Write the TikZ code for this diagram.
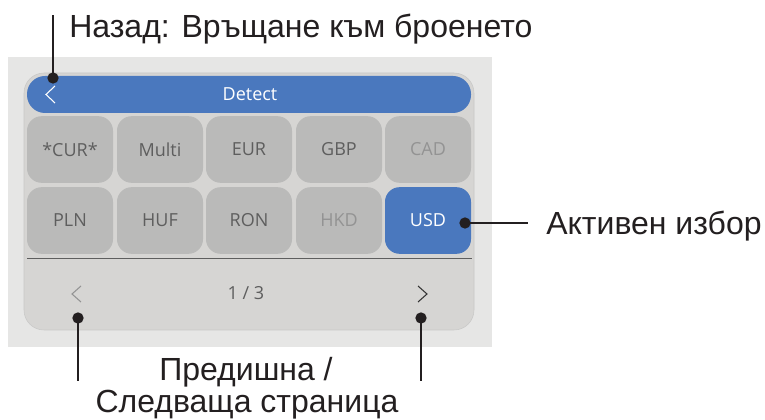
\documentclass[tikz,border=0pt]{standalone}
\usepackage{fontspec}
\setmainfont{Liberation Sans}
\newfontfamily\screenfont{Open Sans}
\usetikzlibrary{positioning}

\definecolor{panelgray}{HTML}{E6E6E5}
\definecolor{screengray}{HTML}{D6D5D3}
\definecolor{screenedge}{HTML}{C8C8C7}
\definecolor{keygray}{HTML}{BABAB9}
\definecolor{keyblue}{HTML}{4A78BE}
\definecolor{keytext}{HTML}{5E5E5E}
\definecolor{keyoff}{HTML}{939393}
\definecolor{callout}{HTML}{231F20}

\tikzset{
	key/.style={rectangle, rounded corners=11pt, fill=keygray, text=keytext,
		minimum width=64.5pt, minimum height=50pt, inner sep=0pt,
		font=\screenfont\fontsize{13.5}{15}\selectfont},
	keyoffline/.style={key, text=keyoff},
	keyactive/.style={key, fill=keyblue, text=white},
	calloutline/.style={draw=callout, line width=1.9pt},
	calloutdot/.style={fill=callout, circle, inner sep=0pt, minimum size=8.5pt},
	callouttext/.style={text=callout, inner sep=0pt, font=\fontsize{24}{26}\selectfont}
}

\begin{document}
\begin{tikzpicture}[x=0.75pt, y=-0.75pt]
				\useasboundingbox (0,0) rectangle (765,420);
				
				\fill[panelgray] (8,57) rectangle (492,347);
				\draw[screenedge, fill=screengray, rounded corners=15pt] (24,73) rectangle (474,330);
				
				\fill[keyblue, rounded corners=13.5pt] (27,76) rectangle (471,113);
				\node[text=white, font=\screenfont\fontsize{13.5}{15}\selectfont] (title) at (250,94.5) {Detect};
				\draw[white, line width=0.8pt] (55,86) -- (46,94.5) -- (55,103);
				
				\node[key] (cur) at (70,149.5) {*CUR*};
				\node[key] (multi) at (160,149.5) {Multi};
				\node[key] (eur) at (249,149.5) {EUR};
				\node[key] (gbp) at (339,149.5) {GBP};
				\node[keyoffline] (cad) at (428,149.5) {CAD};
				
				\node[key] (pln) at (70,220.5) {PLN};
				\node[key] (huf) at (160,220.5) {HUF};
				\node[key] (ron) at (249,220.5) {RON};
				\node[keyoffline] (hkd) at (339,220.5) {HKD};
				\node[keyactive] (usd) at (428,220.5) {USD};
				
				\draw[keytext, line width=0.7pt] (27,258) -- (472,258);
				
				\draw[keyoff, line width=0.8pt] (81,286) -- (72,294) -- (81,302);
				\node[text=keytext, font=\screenfont\fontsize{13.5}{15}\selectfont] (page) at (246,293.5) {1 / 3};
				\draw[black!80, line width=0.8pt] (418,286) -- (427,294) -- (418,302);
				
				% callouts
				\node[calloutdot] (backdot) at (53,78) {};
				\coordinate (backend) at (53,15);
				\draw[calloutline] (backdot.center) -- (backend);
				\node[callouttext, anchor=base west] (backtext) at (69,38) {Назад: Връщане към броенето};
				
				\node[calloutdot] (usddot) at (465,223) {};
				\coordinate (usdend) at (528,223);
				\draw[calloutline] (usddot.center) -- (usdend);
				\node[callouttext, anchor=base west] (usdtext) at (546,235) {Активен избор};
				
				\node[calloutdot] (prevdot) at (78,318) {};
				\coordinate (prevend) at (78,381);
				\draw[calloutline] (prevdot.center) -- (prevend);
				\node[calloutdot] (nextdot) at (421,318) {};
				\coordinate (nextend) at (421,381);
				\draw[calloutline] (nextdot.center) -- (nextend);
				\node[callouttext, anchor=base] (pagetext) at (246,381) {Предишна /};
				\node[callouttext, anchor=base] (pagetext2) at (247,413) {Следваща страница};
			\end{tikzpicture}
\end{document}
